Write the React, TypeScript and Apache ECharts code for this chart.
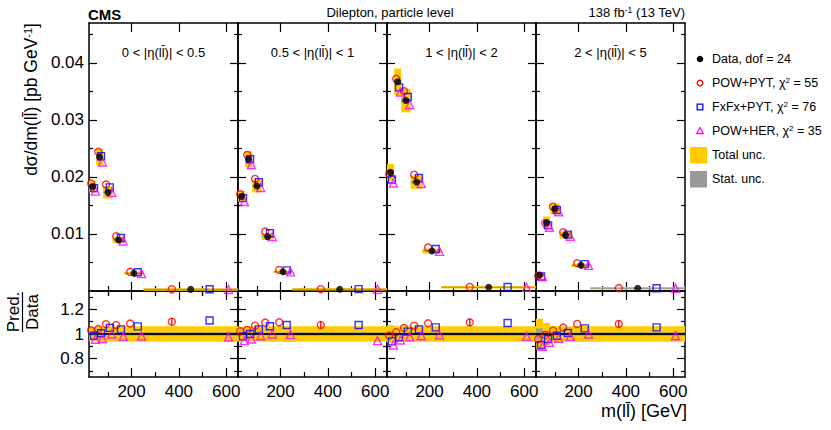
import React, { useEffect, useRef } from 'react';
import * as echarts from 'echarts';

const FONT = '"Liberation Sans", Arial, Helvetica, sans-serif';

// bin edges of m(ll) in GeV
const binEdges = [20, 50, 80, 120, 170, 250, 650];
const etaLabels = ['0 < |η(ll\u0304)| < 0.5', '0.5 < |η(ll\u0304)| < 1', '1 < |η(ll\u0304)| < 2', '2 < |η(ll\u0304)| < 5'];

// measured cross sections [pb/GeV]
const dataEta0 = [0.0183, 0.0235, 0.0173, 0.00895, 0.0031, 0.00028];
const dataEta1 = [0.0166, 0.0231, 0.0184, 0.00953, 0.00337, 0.0003];
const dataEta2 = [0.0208, 0.0367, 0.0334, 0.0191, 0.007, 0.00065];
const dataEta3 = [0.0028, 0.012, 0.0144, 0.0098, 0.0045, 0.00047];

// prediction / data ratios
const powPytEta0 = [1.03, 1.04, 1.08, 1.073, 1.085, 1.1];
const powPytEta1 = [1.022, 1.033, 1.068, 1.093, 1.095, 1.073];
const powPytEta2 = [0.986, 1.014, 1.049, 1.068, 1.087, 1.095];
const powPytEta3 = [0.959, 0.992, 1.027, 1.052, 1.082, 1.082];

const fxfxEta0 = [0.986, 1.006, 1.05, 1.038, 1.062, 1.11];
const fxfxEta1 = [0.981, 1.0, 1.038, 1.063, 1.073, 1.073];
const fxfxEta2 = [0.94, 0.973, 1.019, 1.038, 1.054, 1.09];
const fxfxEta3 = [0.91, 0.959, 0.986, 1.008, 1.046, 1.054];

const powHerEta0 = [0.957, 0.963, 1.0, 0.981, 0.984, 0.975];
const powHerEta1 = [0.946, 0.959, 0.986, 1.0, 0.995, 0.946];
const powHerEta2 = [0.91, 0.951, 0.978, 0.986, 0.992, 0.981];
const powHerEta3 = [0.9, 0.932, 0.965, 0.981, 1.0, 0.986];

// relative uncertainties
const totUncEta0 = [0.056, 0.06, 0.062, 0.062, 0.064, 0.064];
const totUncEta1 = [0.06, 0.062, 0.062, 0.062, 0.064, 0.064];
const totUncEta2 = [0.072, 0.063, 0.062, 0.062, 0.064, 0.064];
const totUncEta3 = [0.125, 0.09, 0.066, 0.062, 0.064, 0.064];

const statUncEta0 = [0.012, 0.01, 0.01, 0.01, 0.012, 0.015];
const statUncEta1 = [0.012, 0.01, 0.01, 0.01, 0.012, 0.015];
const statUncEta2 = [0.02, 0.012, 0.01, 0.01, 0.012, 0.015];
const statUncEta3 = [0.045, 0.02, 0.012, 0.012, 0.012, 0.015];

// MC stat. uncertainty of POW+PYT (relative)
const powPytMcUnc = [0, 0, 0, 0, 0, 0.03];

// tick values
const xMajorTicks = [200, 400, 600];
const xMinorTicks = [100, 300, 500];
const yTopMajor = [0.01, 0.02, 0.03, 0.04];
const yTopMinor = [0.005, 0.015, 0.025, 0.035, 0.045];
const yRatioMajor = [0.8, 1.0, 1.2];
const yRatioMinor = [0.7, 0.9, 1.1, 1.3];

const panels = [
  { data: dataEta0, pp: powPytEta0, fx: fxfxEta0, ph: powHerEta0, tot: totUncEta0, stat: statUncEta0 },
  { data: dataEta1, pp: powPytEta1, fx: fxfxEta1, ph: powHerEta1, tot: totUncEta1, stat: statUncEta1 },
  { data: dataEta2, pp: powPytEta2, fx: fxfxEta2, ph: powHerEta2, tot: totUncEta2, stat: statUncEta2 },
  { data: dataEta3, pp: powPytEta3, fx: fxfxEta3, ph: powHerEta3, tot: totUncEta3, stat: statUncEta3 },
];

const PANEL_LEFT = [89, 238, 387, 536];
const PANEL_W = 149;
const TOP_Y = 23;
const TOP_H = 268;
const RAT_Y = 291;
const RAT_H = 86;

const YELLOW = '#ffcc00';
const GREY = '#999999';
const RED = '#ff0000';
const BLUE = '#0000ff';
const MAG = '#ff00ff';

const axisLineStyle = { color: '#000', width: 1.5 };
const tickStyle = { color: '#000', width: 1.2 };

function binPos(i: number, f: number) {
  return binEdges[i] + f * (binEdges[i + 1] - binEdges[i]);
}

function buildOption() {
  const grid: any[] = [];
  const xAxis: any[] = [];
  const yAxis: any[] = [];
  const series: any[] = [];

  for (let g = 0; g < 8; g++) {
    const p = g % 4;
    const ratio = g >= 4;
    grid.push({ left: PANEL_LEFT[p], width: PANEL_W, top: ratio ? RAT_Y : TOP_Y, height: ratio ? RAT_H : TOP_H });

    const xb = {
      type: 'value', gridIndex: g, min: 20, max: 650,
      splitLine: { show: false },
      axisLine: { show: true, onZero: false, lineStyle: axisLineStyle },
    };
    for (const pos of ['bottom', 'top']) {
      xAxis.push({
        ...xb, position: pos,
        axisTick: { show: true, inside: true, length: 9, customValues: xMajorTicks, lineStyle: tickStyle },
        axisLabel: {
          show: ratio && pos === 'bottom', customValues: xMajorTicks, fontSize: 17, color: '#000',
          fontFamily: FONT, margin: 6,
        },
      });
      xAxis.push({
        ...xb, position: pos, axisLine: { show: false },
        axisTick: { show: true, inside: true, length: 5, customValues: xMinorTicks, lineStyle: tickStyle },
        axisLabel: { show: false },
      });
    }

    const yb = {
      type: 'value', gridIndex: g,
      min: ratio ? 0.65 : 0, max: ratio ? 1.35 : 0.047,
      splitLine: { show: false },
      axisLine: { show: true, onZero: false, lineStyle: axisLineStyle },
    };
    const major = ratio ? yRatioMajor : yTopMajor;
    const minor = ratio ? yRatioMinor : yTopMinor;
    for (const pos of ['left', 'right']) {
      yAxis.push({
        ...yb, position: pos,
        axisTick: { show: true, inside: true, length: 8, customValues: major, lineStyle: tickStyle },
        axisLabel: {
          show: p === 0 && pos === 'left', customValues: major, fontSize: 17, color: '#000', fontFamily: FONT,
          margin: 5,
          formatter: (v: number) => (ratio ? (Math.abs(v - 1) < 1e-9 ? '1' : v.toFixed(1)) : v.toFixed(2)),
        },
      });
      yAxis.push({
        ...yb, position: pos, axisLine: { show: false },
        axisTick: { show: true, inside: true, length: 4, customValues: minor, lineStyle: tickStyle },
        axisLabel: { show: false },
      });
    }
  }

  const boxRender = (params: any, api: any) => {
    const lo = api.value(0), hi = api.value(1), v = api.value(2), t = api.value(3), s = api.value(4);
    const a = api.coord([lo, v + t]);
    const b = api.coord([hi, v - t]);
    const c = api.coord([lo, v + s]);
    const d = api.coord([hi, v - s]);
    const th = Math.max(b[1] - a[1], 2.5);
    const sh = Math.max(d[1] - c[1], 1.2);
    const mid = (a[1] + b[1]) / 2;
    const smid = (c[1] + d[1]) / 2;
    return {
      type: 'group',
      children: [
        { type: 'rect', shape: { x: a[0], y: mid - th / 2, width: b[0] - a[0], height: th }, style: { fill: YELLOW } },
        { type: 'rect', shape: { x: c[0], y: smid - sh / 2, width: d[0] - c[0], height: sh }, style: { fill: GREY, opacity: 0.9 } },
      ],
    };
  };

  const errRender = (params: any, api: any) => {
    const x = api.value(0), y = api.value(1), e = api.value(2);
    if (!e) return null;
    const a = api.coord([x, y + e]);
    const b = api.coord([x, y - e]);
    return { type: 'line', shape: { x1: a[0], y1: a[1], x2: b[0], y2: b[1] }, style: { stroke: RED, lineWidth: 1.3 } };
  };

  const predSym = (symbol: string, color: string, size: number) => ({
    symbol, symbolSize: size,
    itemStyle: { color: 'transparent', borderColor: color, borderWidth: 1.4 },
  });

  panels.forEach((pn, p) => {
    const n = pn.data.length;
    const idx = Array.from({ length: n }, (_, i) => i);
    // top panel
    const gx = 4 * p, gy = 4 * p;
    series.push({
      type: 'custom', xAxisIndex: gx, yAxisIndex: gy, z: 1, clip: true,
      renderItem: boxRender,
      data: idx.map((i) => [binEdges[i], binEdges[i + 1], pn.data[i], pn.data[i] * pn.tot[i], pn.data[i] * pn.stat[i]]),
    });
    series.push({
      type: 'scatter', xAxisIndex: gx, yAxisIndex: gy, z: 3, ...predSym('circle', RED, 7),
      data: idx.map((i) => [binPos(i, 0.3), pn.data[i] * pn.pp[i]]),
    });
    series.push({
      type: 'scatter', xAxisIndex: gx, yAxisIndex: gy, z: 3, ...predSym('rect', BLUE, 7),
      data: idx.map((i) => [binPos(i, 0.7), pn.data[i] * pn.fx[i]]),
    });
    series.push({
      type: 'scatter', xAxisIndex: gx, yAxisIndex: gy, z: 3, ...predSym('triangle', MAG, 8),
      data: idx.map((i) => [binPos(i, 0.9), pn.data[i] * pn.ph[i]]),
    });
    series.push({
      type: 'scatter', xAxisIndex: gx, yAxisIndex: gy, z: 4, symbol: 'circle', symbolSize: 7,
      itemStyle: { color: '#000' },
      data: idx.map((i) => [binPos(i, 0.5), pn.data[i]]),
    });

    // ratio panel
    const rx = 4 * (4 + p), ry = 4 * (4 + p);
    series.push({
      type: 'custom', xAxisIndex: rx, yAxisIndex: ry, z: 1, clip: true,
      renderItem: boxRender,
      data: idx.map((i) => [binEdges[i], binEdges[i + 1], 1, pn.tot[i], pn.stat[i]]),
    });
    series.push({
      type: 'line', xAxisIndex: rx, yAxisIndex: ry, z: 2, symbol: 'none',
      lineStyle: { color: '#111', width: 2 },
      data: [[binEdges[0], 1], [binEdges[n], 1]],
    });
    series.push({
      type: 'custom', xAxisIndex: rx, yAxisIndex: ry, z: 3, clip: true,
      renderItem: errRender,
      data: idx.map((i) => [binPos(i, 0.3), pn.pp[i], powPytMcUnc[i]]),
    });
    series.push({
      type: 'scatter', xAxisIndex: rx, yAxisIndex: ry, z: 3, ...predSym('circle', RED, 7),
      data: idx.map((i) => [binPos(i, 0.3), pn.pp[i]]),
    });
    series.push({
      type: 'scatter', xAxisIndex: rx, yAxisIndex: ry, z: 3, ...predSym('rect', BLUE, 7),
      data: idx.map((i) => [binPos(i, 0.7), pn.fx[i]]),
    });
    series.push({
      type: 'scatter', xAxisIndex: rx, yAxisIndex: ry, z: 3, ...predSym('triangle', MAG, 8),
      data: idx.map((i) => [binPos(i, 0.9), pn.ph[i]]),
    });
  });

  const txt = (x: number, y: number, text: string, extra: any = {}) => ({
    type: 'text', x, y, silent: true,
    style: { text, fontSize: 13, fontFamily: FONT, fill: '#000', align: 'left', verticalAlign: 'middle', ...extra },
  });

  const supRich = (size: number) => ({
    sup: { fontSize: size, fontFamily: FONT, fill: '#000', verticalAlign: 'top' },
  });

  const graphic: any[] = [
    txt(88, 14, 'CMS', { fontSize: 15, fontWeight: 'bold' }),
    txt(390, 12, 'Dilepton, particle level', { align: 'center' }),
    txt(685, 12, '138 fb{sup|-1} (13 TeV)', { align: 'right', rich: supRich(8.5) }),
    // axis titles
    {
      type: 'text', x: 31, y: 23, rotation: Math.PI / 2, silent: true,
      style: {
        text: 'dσ/dm(ll\u0304) [pb GeV{sup|-1}]', fontSize: 17.5, fontFamily: FONT, fill: '#000',
        align: 'right', verticalAlign: 'middle', rich: supRich(11),
      },
    },
    txt(687, 411, 'm(ll\u0304) [GeV]', { align: 'right', fontSize: 18 }),
    {
      type: 'text', x: 13, y: 312, rotation: Math.PI / 2, silent: true,
      style: { text: 'Pred.', fontSize: 17, fontFamily: FONT, fill: '#000', align: 'center', verticalAlign: 'middle' },
    },
    {
      type: 'text', x: 32, y: 312, rotation: Math.PI / 2, silent: true,
      style: { text: 'Data', fontSize: 17, fontFamily: FONT, fill: '#000', align: 'center', verticalAlign: 'middle' },
    },
    { type: 'line', silent: true, shape: { x1: 22.5, y1: 292, x2: 22.5, y2: 332 }, style: { stroke: '#000', lineWidth: 1.2 } },
  ];

  etaLabels.forEach((l, p) => {
    graphic.push(txt(PANEL_LEFT[p] + PANEL_W / 2, 52, l, { align: 'center' }));
  });

  // legend
  const LX = 700;
  const TX = 712;
  const legendRows = [
    { y: 59, text: 'Data, dof = 24' },
    { y: 83, text: 'POW+PYT, χ{sup|2} = 55' },
    { y: 107, text: 'FxFx+PYT, χ{sup|2} = 76' },
    { y: 131, text: 'POW+HER, χ{sup|2} = 35' },
    { y: 155, text: 'Total unc.' },
    { y: 179, text: 'Stat. unc.' },
  ];
  graphic.push({ type: 'circle', silent: true, shape: { cx: LX, cy: 59, r: 3.3 }, style: { fill: '#000' } });
  graphic.push({ type: 'circle', silent: true, shape: { cx: LX, cy: 83, r: 2.8 }, style: { fill: 'none', stroke: RED, lineWidth: 1.3 } });
  graphic.push({ type: 'rect', silent: true, shape: { x: LX - 2.8, y: 107 - 2.8, width: 5.6, height: 5.6 }, style: { fill: 'none', stroke: BLUE, lineWidth: 1.3 } });
  graphic.push({
    type: 'polygon', silent: true,
    shape: { points: [[LX, 127.5], [LX + 3.3, 133.5], [LX - 3.3, 133.5]] },
    style: { fill: 'none', stroke: MAG, lineWidth: 1.3 },
  });
  graphic.push({ type: 'rect', silent: true, shape: { x: 690, y: 147, width: 17, height: 16.5 }, style: { fill: YELLOW } });
  graphic.push({ type: 'rect', silent: true, shape: { x: 690, y: 171, width: 17, height: 16.5 }, style: { fill: GREY } });
  legendRows.forEach((r) => {
    graphic.push(txt(TX, r.y, r.text, { fontSize: 12.5, rich: { sup: { fontSize: 8, fontFamily: FONT, fill: '#000', verticalAlign: 'top' } } }));
  });

  return {
    animation: false,
    backgroundColor: '#ffffff',
    grid, xAxis, yAxis, series, graphic,
  };
}

export default function App() {
  const ref = useRef<HTMLDivElement>(null);
  useEffect(() => {
    document.body.style.margin = '0';
    if (!ref.current) return;
    const chart = echarts.init(ref.current, undefined, { renderer: 'svg' });
    chart.setOption(buildOption() as any);
    return () => chart.dispose();
  }, []);
  return <div ref={ref} style={{ position: 'absolute', left: 0, top: 0, width: 831, height: 430, background: '#fff' }} />;
}
